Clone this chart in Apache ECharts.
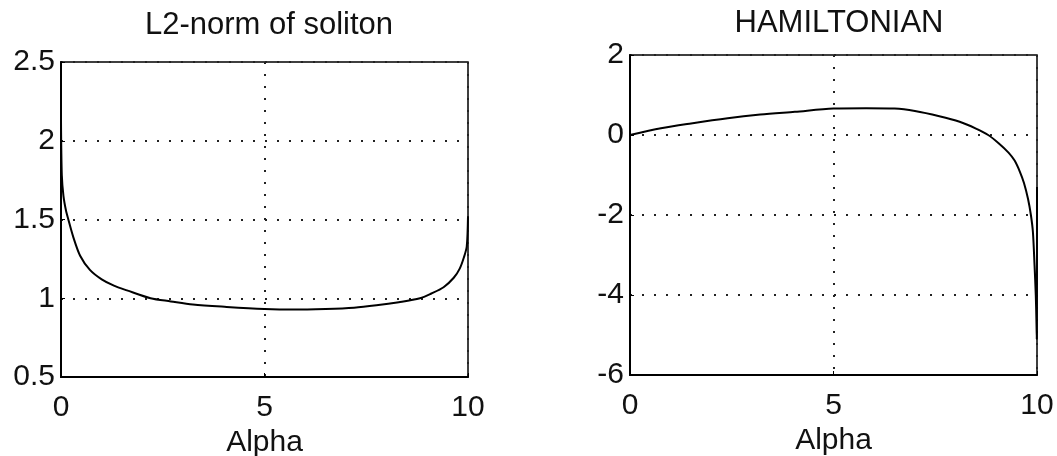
<!DOCTYPE html>
<html lang="en">
<head>
  <meta charset="utf-8">
  <style>
    html, body { margin: 0; padding: 0; background: #fff; }
    #container { width: 1057px; height: 456px; }
  </style>
</head>
<body>
  <div id="container"></div>

  <script type="text/javascript" src="https://cdn.jsdelivr.net/npm/echarts@6/dist/echarts.min.js"></script>
  <script type="text/javascript">
    // L2-norm of soliton vs alpha
    var alphaL2 = [0, 0.02, 0.06, 0.12, 0.18, 0.3, 0.47, 0.71, 1.0, 1.3, 1.62, 2.2, 2.7, 3.24, 4.07,
                   5.0, 5.7, 6.5, 7.2, 7.75, 8.3, 8.82, 9.1, 9.4, 9.65, 9.8, 9.9, 9.97, 10];
    var normL2 = [2.13, 1.78, 1.65, 1.56, 1.5, 1.39, 1.27, 1.18, 1.12, 1.08, 1.05, 1.0, 0.98, 0.96, 0.945,
                  0.932, 0.928, 0.932, 0.94, 0.955, 0.975, 1.0, 1.03, 1.07, 1.13, 1.19, 1.26, 1.33, 1.52];

    // Hamiltonian vs alpha
    var alphaH = [0, 0.76, 1.5, 2.4, 3.2, 4.05, 5.0, 5.8, 6.5, 7.0, 7.6, 8.1, 8.5, 8.8,
                  9.05, 9.3, 9.45, 9.58, 9.68, 9.78, 9.85, 9.9, 9.94, 9.97, 9.985, 9.995, 10];
    var hamil = [0, 0.17, 0.29, 0.42, 0.51, 0.58, 0.66, 0.67, 0.66, 0.6, 0.47, 0.33, 0.16, 0,
                 -0.2, -0.44, -0.64, -0.92, -1.2, -1.6, -2.0, -2.43, -3.27, -4.0, -4.6, -5.1, -1.3];

    var titles = ['L2-norm of soliton', 'HAMILTONIAN'];
    var xName = 'Alpha';

    function pairs(xs, ys) {
      return xs.map(function (x, i) { return [x, ys[i]]; });
    }

    var FONT = '"Liberation Sans", Arial, Helvetica, sans-serif';

    var dotted = { color: '#222', width: 2, type: [2, 10] };

    function xAxisFor(idx) {
      return {
        type: 'value', gridIndex: idx, min: 0, max: 10, interval: 5,
        name: xName, nameLocation: 'middle', nameGap: 51,
        nameTextStyle: { fontFamily: FONT, fontSize: 30, color: '#111' },
        axisLine: { show: true, onZero: false, lineStyle: { color: '#000', width: 2 } },
        axisTick: { show: true, inside: true, length: 4, lineStyle: { color: '#000' } },
        axisLabel: { fontFamily: FONT, fontSize: 30, color: '#111', margin: 16 },
        splitLine: { show: true, lineStyle: dotted }
      };
    }

    function yAxisFor(idx, min, max, step) {
      return {
        type: 'value', gridIndex: idx, min: min, max: max, interval: step,
        axisLine: { show: true, onZero: false, lineStyle: { color: '#000', width: 2 } },
        axisTick: { show: true, inside: true, length: 4, lineStyle: { color: '#000' } },
        axisLabel: { fontFamily: FONT, fontSize: 30, color: '#111', margin: 6, padding: [5, 0, 0, 0] },
        splitLine: { show: true, lineStyle: dotted }
      };
    }

    var myChart = echarts.init(document.getElementById('container'), null, { renderer: 'canvas' });

    var option = {
      backgroundColor: '#fff',
      animation: false,
      title: [
        { text: titles[0], left: 264, top: 5, textAlign: 'center',
          textStyle: { fontFamily: FONT, fontSize: 31, fontWeight: 'normal', color: '#111' } },
        { text: titles[1], left: 834, top: 3, textAlign: 'center',
          textStyle: { fontFamily: FONT, fontSize: 31, fontWeight: 'normal', color: '#111' } }
      ],
      grid: [
        { left: 61, top: 62, width: 407, height: 315, outerBoundsMode: 'none', containLabel: false,
          show: true, borderColor: '#000', borderWidth: 1.5, backgroundColor: 'transparent' },
        { left: 630, top: 55, width: 407, height: 320, outerBoundsMode: 'none', containLabel: false,
          show: true, borderColor: '#000', borderWidth: 1.5, backgroundColor: 'transparent' }
      ],
      xAxis: [xAxisFor(0), xAxisFor(1)],
      yAxis: [yAxisFor(0, 0.5, 2.5, 0.5), yAxisFor(1, -6, 2, 2)],
      series: [
        {
          type: 'line', xAxisIndex: 0, yAxisIndex: 0,
          data: pairs(alphaL2, normL2), smooth: 0.3, showSymbol: false,
          lineStyle: { color: '#000', width: 2 }
        },
        {
          type: 'line', xAxisIndex: 1, yAxisIndex: 1,
          data: pairs(alphaH, hamil), smooth: 0.3, showSymbol: false,
          lineStyle: { color: '#000', width: 2 }
        }
      ]
    };

    myChart.setOption(option);
    window.addEventListener('resize', myChart.resize);
  </script>
</body>
</html>
